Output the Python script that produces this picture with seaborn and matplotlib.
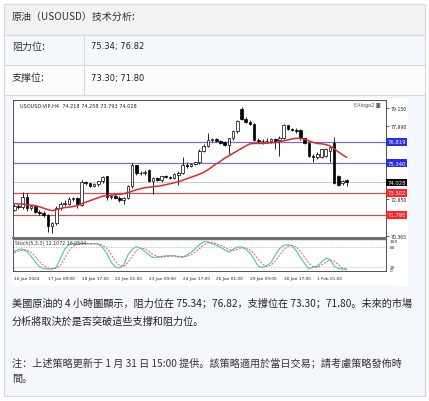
import matplotlib
matplotlib.use('Agg')
import matplotlib.pyplot as plt
from matplotlib.patches import Rectangle
from matplotlib.lines import Line2D
import matplotlib.transforms as mtransforms
import seaborn as sns

# --- data ---
opens = [72.15, 72.40, 72.30, 73.05, 72.25, 72.40, 72.00, 71.90, 71.75, 71.00,
         71.20, 72.25, 72.55, 72.55, 72.90, 72.95, 72.50, 74.05, 73.95, 73.80,
         73.90, 74.10, 74.45, 73.00, 73.10, 72.95, 72.80, 72.95, 73.75, 75.20,
         74.65, 74.70, 74.90, 74.15, 74.30, 74.20, 74.45, 74.40, 74.35, 74.55,
         74.70, 75.25, 75.15, 75.30, 75.40, 76.20, 76.55, 76.95, 77.00, 76.85,
         76.80, 76.60, 77.05, 77.55, 79.05, 78.40, 78.20, 78.05, 76.95, 76.85,
         76.90, 76.85, 77.00, 76.95, 77.10, 77.95, 77.70, 77.60, 77.60, 77.05,
         76.75, 75.85, 75.75, 75.80, 75.85, 76.20, 76.75, 74.45, 73.95, 74.218]
highs = [72.55, 72.55, 73.35, 73.30, 72.50, 72.50, 72.15, 72.05, 71.85, 71.30,
         72.40, 72.65, 72.80, 73.00, 73.05, 73.05, 74.20, 74.15, 74.00, 74.00,
         74.15, 74.50, 74.50, 73.25, 73.20, 73.10, 73.05, 73.85, 75.35, 75.25,
         74.80, 74.85, 74.95, 74.40, 74.40, 74.50, 74.55, 74.50, 74.65, 74.80,
         75.75, 75.40, 75.35, 75.45, 76.30, 76.65, 77.45, 77.10, 77.05, 76.95,
         76.90, 77.10, 77.65, 78.35, 79.25, 78.50, 78.35, 78.10, 77.10, 77.00,
         77.05, 77.10, 77.05, 77.20, 78.05, 78.00, 77.80, 77.75, 77.70, 77.10,
         76.80, 76.00, 76.10, 76.35, 76.40, 76.55, 77.15, 74.55, 74.20, 74.258]
lows = [72.05, 72.20, 72.20, 72.05, 72.10, 71.90, 71.80, 71.65, 70.60, 70.55,
        71.10, 72.10, 72.40, 72.45, 72.75, 72.25, 72.40, 73.85, 73.70, 73.70,
        73.80, 74.00, 72.80, 72.85, 72.85, 72.70, 72.55, 72.85, 73.65, 74.55,
        74.55, 74.55, 74.05, 73.25, 74.10, 74.05, 74.30, 74.25, 74.25, 73.85,
        74.60, 75.05, 75.10, 75.20, 75.30, 76.10, 76.45, 76.80, 76.80, 76.70,
        76.50, 75.99, 76.95, 77.45, 78.35, 78.10, 77.95, 76.85, 76.75, 76.70,
        76.80, 76.75, 76.30, 75.85, 77.00, 77.60, 77.55, 77.45, 76.95, 76.65,
        75.75, 75.40, 75.65, 75.70, 75.80, 75.40, 73.90, 73.75, 73.85, 73.793]
closes = [72.40, 72.30, 73.05, 72.25, 72.40, 72.00, 71.90, 71.80, 71.00, 71.20,
          72.25, 72.55, 72.60, 72.90, 72.95, 72.55, 74.05, 73.95, 73.80, 73.90,
          74.10, 74.40, 73.00, 73.10, 72.95, 72.80, 72.95, 73.75, 75.20, 74.65,
          74.70, 74.75, 74.15, 74.30, 74.20, 74.45, 74.40, 74.35, 74.60, 74.70,
          75.25, 75.15, 75.30, 75.40, 76.20, 76.55, 76.95, 77.00, 76.85, 76.75,
          76.60, 77.05, 77.55, 78.25, 78.40, 78.20, 78.05, 76.95, 76.85, 76.90,
          76.85, 77.00, 76.90, 77.10, 77.95, 77.70, 77.60, 77.55, 77.05, 76.75,
          75.85, 75.75, 75.95, 76.30, 76.35, 76.45, 74.00, 73.85, 74.15, 74.028]
ma = [72.56, 72.54, 72.53, 72.49, 72.46, 72.42, 72.35, 72.25, 72.15, 72.08,
      72.15, 72.22, 72.29, 72.32, 72.37, 72.42, 72.56, 72.66, 72.77, 72.87,
      72.97, 73.08, 73.11, 73.14, 73.18, 73.21, 73.25, 73.32, 73.42, 73.52,
      73.59, 73.66, 73.69, 73.73, 73.76, 73.80, 73.87, 73.93, 74.00, 74.07,
      74.17, 74.28, 74.38, 74.48, 74.59, 74.72, 74.89, 75.10, 75.31, 75.48,
      75.69, 75.86, 76.03, 76.20, 76.37, 76.54, 76.68, 76.71, 76.71, 76.71,
      76.73, 76.75, 76.78, 76.82, 76.89, 76.95, 77.02, 77.06, 77.06, 76.99,
      76.89, 76.78, 76.71, 76.68, 76.64, 76.54, 76.33, 76.13, 75.92, 75.75]
stoch_main = [66, 72, 73, 66, 52, 35, 21, 15, 14, 14, 20, 45, 72, 86, 89, 88, 89, 89, 88, 89,
              88, 78, 60, 35, 20, 17, 26, 55, 72, 80, 76, 66, 56, 48, 49, 51, 53, 53, 53, 50,
              49, 55, 63, 74, 86, 95, 94, 89, 84, 78, 71, 64, 72, 79, 79, 72, 62, 42, 22, 19,
              24, 33, 55, 74, 84, 86, 83, 68, 48, 30, 14, 20, 22, 35, 46, 42, 22, 16, 14, 12.1]
stoch_signal = [62, 67, 70, 70, 64, 51, 36, 24, 17, 14, 16, 26, 46, 68, 82, 88, 89, 89, 89, 89,
                88, 85, 75, 58, 38, 24, 21, 33, 51, 69, 76, 74, 66, 57, 51, 49, 51, 52, 53, 52,
                51, 51, 56, 64, 74, 85, 92, 93, 89, 84, 78, 71, 69, 72, 77, 77, 71, 59, 42, 28,
                22, 25, 37, 54, 71, 81, 84, 79, 66, 49, 31, 21, 19, 26, 34, 41, 37, 27, 17, 16.05]
date_labels = ['16 Jan 2024', '17 Jan 09:00', '18 Jan 17:00', '22 Jan 01:00', '23 Jan 09:00',
               '24 Jan 17:00', '26 Jan 01:00', '29 Jan 09:00', '30 Jan 17:00', '1 Feb 01:00']
price_ticks = [79.150, 77.890, 72.850, 70.365]
resistance = [76.819, 75.340]
support = [73.302, 71.795]
last_price = 74.028

W, H = 429, 402
sns.set_style('white')
plt.rcParams['font.family'] = ['Noto Sans CJK SC', 'DejaVu Sans']

fig = plt.figure(figsize=(W / 100, H / 100), dpi=100)
fig.patch.set_facecolor('white')


def fbox(x0, y0, x1, y1):
    return [x0 / W, 1 - y1 / H, (x1 - x0) / W, (y1 - y0) / H]


def rect(x0, y0, x1, y1, fc, ec='none', lw=0.8, z=-5):
    fig.add_artist(Rectangle((x0 / W, 1 - y1 / H), (x1 - x0) / W, (y1 - y0) / H,
                             transform=fig.transFigure, fc=fc, ec=ec, lw=lw, zorder=z))


def hline(x0, x1, y, c='#d8d8d8', lw=0.8):
    fig.add_artist(Line2D([x0 / W, x1 / W], [1 - y / H, 1 - y / H], transform=fig.transFigure,
                          color=c, lw=lw, zorder=-3))


def vline(x, y0, y1, c='#d8d8d8', lw=0.8):
    fig.add_artist(Line2D([x / W, x / W], [1 - y0 / H, 1 - y1 / H], transform=fig.transFigure,
                          color=c, lw=lw, zorder=-3))


def txt(x, y, s, size=7, color='#222222', **kw):
    fig.text(x / W, 1 - y / H, s, fontsize=size, color=color, va='center', ha='left', **kw)


# --- table part ---
rect(4, 5, 425, 397, '#f4f8fd', ec='#d8d8d8', z=-6)
rect(4, 5, 425, 36, '#f2f2f2')
rect(4, 36, 425, 66, '#f5f8fd')
rect(4, 66, 425, 96, '#fbfcfe')
for yy in (5, 36, 66, 96):
    hline(4, 425, yy)
vline(4, 5, 397)
vline(425, 5, 397)
vline(84, 36, 96)
txt(12, 17, '原油（USOUSD）技术分析:', size=7.2, color='#333333')
txt(12, 47, '阻力位:', size=7.2, color='#333333')
txt(91, 47, '75.34; 76.82', size=6, color='#222222', family='DejaVu Sans')
txt(12, 78, '支撑位:', size=7.2, color='#333333')
txt(91, 78, '73.30; 71.80', size=6, color='#222222', family='DejaVu Sans')

# chart picture background
rect(12, 99, 408, 287, 'white', z=-2)

# --- price chart ---
bars = list(range(len(closes)))
x_left, x_right = 13, 386
step = 4.21
x0bar = 14.2
xlim = ((x_left - x0bar) / step, (x_right - x0bar) / step)

ax = fig.add_axes(fbox(x_left, 101, x_right, 238.5))
ax.set_facecolor('white')
ax.set_xlim(*xlim)
ax.set_ylim(70.23, 79.70)
for yv in resistance:
    ax.axhline(yv, color='#7373d6', lw=0.9, zorder=1)
for yv in support:
    ax.axhline(yv, color='#d05050', lw=0.9, zorder=1)
ax.axhline(last_price, color='#cccccc', lw=0.7, zorder=1)

ax.vlines(bars, lows, highs, color='black', lw=0.6, zorder=3)
body_low = [min(o, c) for o, c in zip(opens, closes)]
body_h = [max(abs(c - o), 0.02) for o, c in zip(opens, closes)]
face = ['white' if c >= o else 'black' for o, c in zip(opens, closes)]
ax.bar(bars, body_h, bottom=body_low, width=0.62, color=face, edgecolor='black', linewidth=0.5, zorder=4)
sns.lineplot(x=bars, y=ma, ax=ax, color='#e3262c', lw=1.1, estimator=None, zorder=5)

ax.yaxis.tick_right()
ax.set_yticks(price_ticks)
ax.set_yticklabels([f'{v:.3f}' for v in price_ticks])
ax.tick_params(axis='y', labelsize=3.8, length=2, width=0.5, pad=1.5, colors='#222222')
ax.set_xticks([])
ax.set_xlabel('')
ax.set_ylabel('')
for s in ax.spines.values():
    s.set_color('#333333')
    s.set_linewidth(0.6)
ax.spines['bottom'].set_color('#6f6f6f')
ax.spines['bottom'].set_linewidth(1.4)

trans = mtransforms.blended_transform_factory(ax.transAxes, ax.transData)
for yv, bg in [(resistance[0], '#2b2bea'), (resistance[1], '#2b2bea'),
               (last_price, 'black'), (support[0], '#ff2424'), (support[1], '#ff2424')]:
    ax.text(1.004, yv, f'{yv:.3f}', transform=trans, fontsize=3.8, color='white', va='center', ha='left',
            family='DejaVu Sans', clip_on=False,
            bbox=dict(boxstyle='square,pad=0.25', fc=bg, ec='none'), zorder=10)

ax.text(0.02, 0.965, 'USOUSD-VIP,H4  74.218 74.258 73.793 74.028', transform=ax.transAxes,
        fontsize=3.6, color='#222222', va='center', ha='left', family='DejaVu Sans')
ax.text(0.985, 0.965, 'EAlogo2 ◙', transform=ax.transAxes, fontsize=3.6, color='#555555',
        va='center', ha='right', family='DejaVu Sans')

# --- stochastic panel ---
ax2 = fig.add_axes(fbox(x_left, 240, x_right, 272))
ax2.set_facecolor('white')
ax2.set_xlim(*xlim)
ax2.set_ylim(8.2, 102.8)
ax2.axhline(80, color='#bbbbbb', lw=0.6, ls=(0, (1.5, 1.5)))
ax2.axhline(20, color='#bbbbbb', lw=0.6, ls=(0, (1.5, 1.5)))
sns.lineplot(x=bars, y=stoch_main, ax=ax2, color='#5cc6c2', lw=0.9, estimator=None)
sns.lineplot(x=bars, y=stoch_signal, ax=ax2, color='#e05a5a', lw=0.7, linestyle=(0, (2, 1.5)), estimator=None)
ax2.set_yticks([])
ax2.set_xticks(bars[::8])
ax2.set_xticklabels(date_labels, ha='left', family='DejaVu Sans')
ax2.tick_params(axis='x', labelsize=3.1, length=2, width=0.5, pad=1.5, colors='#222222')
ax2.set_xlabel('')
ax2.set_ylabel('')
for s in ax2.spines.values():
    s.set_color('#333333')
    s.set_linewidth(0.6)
ax2.spines['top'].set_color('#6f6f6f')
ax2.spines['top'].set_linewidth(1.0)
ax2.text(0.006, 0.88, 'Stoch(5,3,3) 12.1072 16.0544', transform=ax2.transAxes, fontsize=3.4,
         color='#333333', va='center', ha='left', family='DejaVu Sans')
trans2 = mtransforms.blended_transform_factory(ax2.transAxes, ax2.transData)
for yv, lab in [(97, '100'), (80, '80'), (20, '20'), (10, '0')]:
    ax2.text(1.01, yv, lab, transform=trans2, fontsize=3.2, color='#222222', va='center', ha='left',
             family='DejaVu Sans', clip_on=False)

# --- text below ---
txt(12, 303, '美國原油的 4 小時圖顯示，阻力位在 75.34；76.82，支撐位在 73.30；71.80。未來的市場', size=7.3)
txt(12, 322, '分析將取決於是否突破這些支撐和阻力位。', size=7.3)
txt(12, 363, '注：上述策略更新于 1 月 31 日 15:00 提供。該策略適用於當日交易；請考慮策略發佈時', size=7.3, color='#333333')
txt(12, 379, '間。', size=7.3, color='#333333')

fig.savefig('out.png', dpi=100)
